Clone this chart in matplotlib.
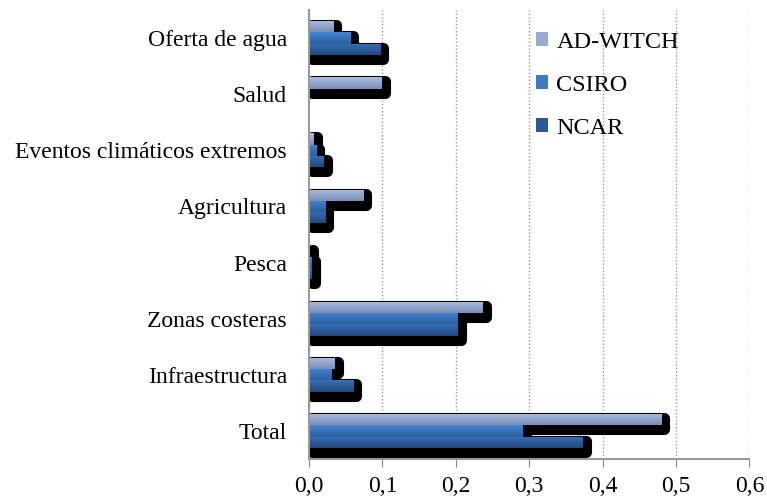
import numpy as np
import matplotlib
matplotlib.use("Agg")
import matplotlib.pyplot as plt
import matplotlib.patheffects as pe
import matplotlib.transforms as mtransforms
from matplotlib.colors import LinearSegmentedColormap
from matplotlib.patches import Patch

# data (bottom to top)
categories = ["Total", "Infraestructura", "Zonas costeras", "Pesca",
              "Agricultura", "Eventos climáticos extremos", "Salud", "Oferta de agua"]
ad_witch = [0.480, 0.035, 0.237, 0.001, 0.074, 0.006, 0.099, 0.033]
csiro = [0.291, 0.031, 0.203, 0.004, 0.022, 0.010, 0.0, 0.056]
ncar = [0.373, 0.060, 0.203, 0.004, 0.022, 0.020, 0.0, 0.097]

series = [("AD-WITCH", ad_witch, ("#a9bce0", "#7b8fb6")),
          ("CSIRO", csiro, ("#4485d2", "#2b5e9e")),
          ("NCAR", ncar, ("#3670b6", "#22497f"))]
legend_colors = ["#97abd2", "#3d7bc6", "#2c5a96"]

plt.rcParams["font.family"] = ["Liberation Serif", "DejaVu Serif"]

fig = plt.figure(figsize=(7.67, 5.0), dpi=100)
ax = fig.add_axes([0.403, 0.082, 0.574, 0.898])

y = np.arange(len(categories))
h = 0.2
offsets = [h, 0.0, -h]

shadow_tr = ax.transData + mtransforms.ScaledTranslation(3 / 100, -4 / 100, fig.dpi_scale_trans)

for (name, vals, (c_top, c_bot)), off in zip(series, offsets):
    cmap = LinearSegmentedColormap.from_list(name, [c_bot, c_top])
    grad = np.linspace(0, 1, 64).reshape(-1, 1)
    bars = ax.barh(y + off, vals, height=h, color=c_top, zorder=3, linewidth=0)
    for b in bars:
        w = b.get_width()
        if w <= 0:
            continue
        y0 = b.get_y()
        # shadow with rounded corners
        sh = plt.Rectangle((0, y0), w, h, facecolor="black", edgecolor="black",
                           linewidth=0, transform=shadow_tr, zorder=1)
        sh.set_path_effects([pe.Stroke(linewidth=8, foreground="black", joinstyle="round"),
                             pe.Normal()])
        ax.add_patch(sh)
        im = ax.imshow(grad, extent=[0, w, y0, y0 + h], origin="lower", cmap=cmap,
                       aspect="auto", zorder=4, interpolation="bilinear")
        im.set_clip_path(b)

ax.set_xlim(0, 0.6)
ax.set_ylim(-0.5, len(categories) - 0.5)
ax.set_yticks(y)
ax.set_yticklabels(categories, fontsize=17)
ax.set_xticks(np.arange(0, 0.61, 0.1))
ax.xaxis.set_major_formatter(matplotlib.ticker.FuncFormatter(lambda v, p: f"{v:.1f}".replace(".", ",")))
ax.tick_params(axis="x", labelsize=17, color="#888888", length=6, pad=6)
ax.tick_params(axis="y", length=0, pad=16)

for x in np.arange(0.1, 0.61, 0.1):
    ax.axvline(x, color="#999999", linestyle=(0, (1, 1.5)), linewidth=1, zorder=0)

for s in ["top", "right"]:
    ax.spines[s].set_visible(False)
for s in ["left", "bottom"]:
    ax.spines[s].set_color("#999999")
    ax.spines[s].set_linewidth(1.5)
    ax.spines[s].set_zorder(5)

handles = [Patch(facecolor=c, label=n) for (n, _, _), c in zip(series, legend_colors)]
ax.legend(handles=handles, loc="upper left", bbox_to_anchor=(0.465, 1.0), frameon=False,
          fontsize=17.5, handlelength=0.5, handleheight=0.5, handletextpad=0.35,
          labelspacing=0.9)

fig.savefig("out.png", dpi=100)
